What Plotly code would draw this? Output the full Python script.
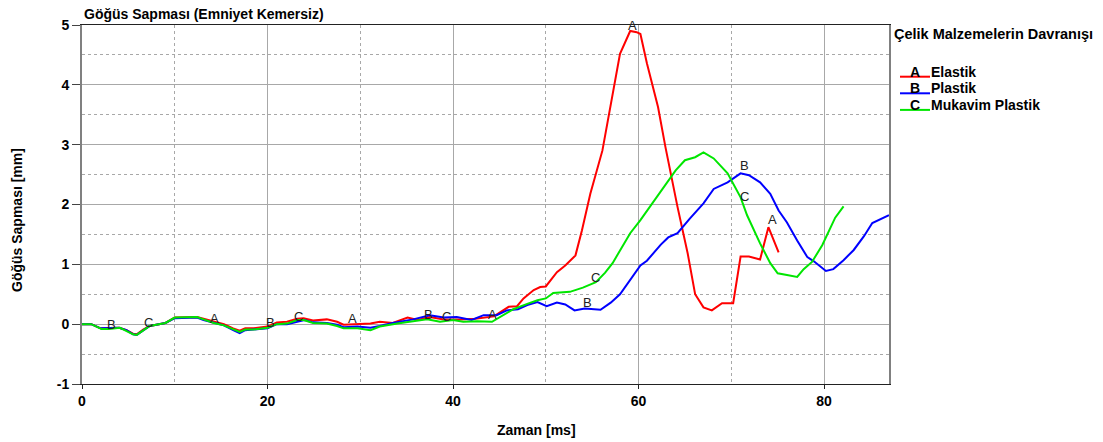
import plotly.graph_objects as go

# ---- data ----
elastik_x = [0, 1, 2, 3, 4, 4.8, 5.5, 5.9, 6.6, 7.3, 8, 9, 10, 11.3, 12.4, 13.1, 14.2, 15.3, 16.3, 17, 17.6, 18.5,
             20, 21, 22.1, 23.2, 23.9, 24.9, 26.4, 27.5, 28.2, 29.7, 31.1, 32.1, 33.5, 35.1, 36.2, 37.5, 39, 40.8,
             42.4, 44.4, 46, 46.9, 47.6, 48.7, 49.4, 50, 50.5, 51.2, 52.1, 53.2, 53.9, 54.8, 56.1, 57.2, 58, 59.1,
             59.8, 60.2, 60.9, 62.1, 62.9, 64.2, 65.3, 66.1, 67, 67.9, 69, 70.2, 71, 71.9, 73.1, 74, 75.1]
elastik_y = [0, 0, -0.07, -0.07, -0.06, -0.1, -0.16, -0.17, -0.09, -0.03, -0.01, 0.02, 0.11, 0.12, 0.12, 0.09, 0.04,
             0.0, -0.07, -0.11, -0.07, -0.07, -0.04, 0.03, 0.04, 0.09, 0.1, 0.06, 0.08, 0.04, -0.01, 0.0, 0.01, 0.04,
             0.02, 0.11, 0.07, 0.12, 0.08, 0.08, 0.09, 0.13, 0.29, 0.3, 0.43, 0.57, 0.62, 0.63, 0.73, 0.87, 0.98,
             1.15, 1.57, 2.18, 2.9, 3.85, 4.52, 4.9, 4.88, 4.85, 4.36, 3.63, 2.96, 1.96, 1.18, 0.5, 0.28, 0.23, 0.35,
             0.35, 1.13, 1.13, 1.08, 1.62, 1.2]

plastik_x = [0, 1, 2, 3, 4, 4.8, 5.5, 5.9, 6.6, 7.3, 8, 9, 10, 11.3, 12.4, 13.1, 14.2, 15.3, 16.3, 17, 17.6, 18.5,
             20, 21, 22.1, 23.2, 24, 24.9, 26.4, 27.5, 28.2, 29.7, 31.1, 32.1, 33.5, 35.7, 37.5, 39, 40.4, 42, 43.3,
             44.7, 45.8, 47, 48, 49.1, 50.1, 51.2, 52.1, 53.1, 54.2, 55.9, 57, 58, 59.1, 60.2, 60.9, 62.4, 63.2,
             64.2, 65.5, 67, 68.1, 69.6, 71, 71.9, 73.1, 74.2, 75.1, 76, 77.1, 78.2, 78.9, 80.2, 81, 82.1, 83.2,
             84.3, 85.2, 86.1, 87]
plastik_y = [0, 0, -0.07, -0.07, -0.06, -0.1, -0.17, -0.18, -0.1, -0.03, -0.01, 0.02, 0.1, 0.11, 0.11, 0.07, 0.02,
             -0.02, -0.1, -0.15, -0.1, -0.09, -0.07, 0.0, 0.0, 0.04, 0.07, 0.03, 0.02, -0.01, -0.05, -0.04, -0.06,
             -0.03, 0.02, 0.08, 0.15, 0.11, 0.12, 0.07, 0.15, 0.15, 0.23, 0.25, 0.32, 0.37, 0.3, 0.36, 0.33, 0.23,
             0.26, 0.24, 0.36, 0.5, 0.73, 0.98, 1.06, 1.33, 1.45, 1.52, 1.76, 2.02, 2.26, 2.37, 2.52, 2.49, 2.37,
             2.18, 1.9, 1.7, 1.4, 1.12, 1.05, 0.89, 0.92, 1.07, 1.24, 1.47, 1.69, 1.75, 1.82]

mukavim_x = [0, 1, 2.1, 2.9, 4.1, 4.8, 5.5, 5.9, 6.6, 7.3, 8, 9, 10, 11.3, 12.4, 13.1, 14.2, 15.3, 16.3, 17, 17.6,
             18.5, 20, 21, 22.1, 23.2, 23.9, 24.9, 26.4, 27.5, 28.2, 29.7, 31.1, 32.1, 34, 35.4, 37.2, 38.6, 40,
             41.1, 42.6, 44.2, 45.1, 46.5, 48, 49.1, 50, 50.8, 52.6, 54, 55.4, 56.4, 57.2, 58, 59.1, 60.2, 61.4,
             62.7, 64, 65, 66.1, 67, 68.1, 69.6, 71, 71.7, 73.1, 74.2, 75, 76, 77.1, 77.8, 78.7, 79.8, 81.2, 82.1]
mukavim_y = [0, 0, -0.08, -0.08, -0.06, -0.11, -0.17, -0.18, -0.1, -0.03, -0.01, 0.02, 0.11, 0.12, 0.12, 0.08,
             0.02, -0.02, -0.09, -0.13, -0.09, -0.09, -0.06, 0.0, 0.01, 0.07, 0.07, 0.02, 0.01, -0.03, -0.07, -0.07,
             -0.1, -0.04, 0.01, 0.04, 0.08, 0.04, 0.07, 0.04, 0.05, 0.04, 0.12, 0.25, 0.34, 0.4, 0.43, 0.52, 0.54,
             0.61, 0.7, 0.86, 1.02, 1.24, 1.52, 1.74, 2.0, 2.27, 2.57, 2.74, 2.79, 2.87, 2.77, 2.52, 2.12, 1.82,
             1.35, 1.02, 0.85, 0.82, 0.79, 0.92, 1.04, 1.32, 1.78, 1.97]

series_names = ["Elastik", "Plastik", "Mukavim Plastik"]
series_letters = ["A", "B", "C"]
series_colors = ["#ff0000", "#0000ff", "#00e600"]

# curve marker letters (x, y)
label_text = ["B", "C", "A", "B", "C", "A", "B", "C", "A", "B", "C", "A", "B", "C", "A"]
label_x = [3.2, 7.2, 14.3, 20.3, 23.3, 29.2, 37.4, 39.3, 44.3, 54.5, 55.4, 59.3, 71.4, 71.4, 74.4]
label_y = [0.0, 0.02, 0.1, 0.02, 0.13, 0.1, 0.17, 0.13, 0.17, 0.37, 0.78, 5.0, 2.65, 2.14, 1.75]

x_ticks = [0, 20, 40, 60, 80]
y_ticks = [-1, 0, 1, 2, 3, 4, 5]

FONT = "Liberation Sans, Arial, sans-serif"
L, R, T, B = 82, 889, 25, 384
PW, PH = R - L, B - T


def px_x(p):
    return (p - L) / PW


def px_y(p):
    return (B - p) / PH


fig = go.Figure()
all_x = [elastik_x, plastik_x, mukavim_x]
all_y = [elastik_y, plastik_y, mukavim_y]
for xs, ys, nm, col in zip(all_x, all_y, series_names, series_colors):
    fig.add_trace(go.Scatter(x=xs, y=ys, mode="lines", name=nm, showlegend=False,
                             line=dict(color=col, width=2)))

for t, lx, ly in zip(label_text, label_x, label_y):
    fig.add_annotation(x=lx, y=ly, xref="x", yref="y", text=t, showarrow=False,
                       font=dict(family=FONT, size=13, color="#222"))

# titles
fig.add_annotation(xref="paper", yref="paper", x=0, y=px_y(14), xanchor="left", yanchor="middle",
                   text="<b>Göğüs Sapması (Emniyet Kemersiz)</b>", showarrow=False,
                   font=dict(family=FONT, size=14, color="#000"))
fig.add_annotation(xref="paper", yref="paper", x=px_x(536), y=px_y(430),
                   xanchor="center", yanchor="middle",
                   text="<b>Zaman [ms]</b>", showarrow=False, font=dict(family=FONT, size=14, color="#000"))
fig.add_annotation(xref="paper", yref="paper", x=px_x(17), y=px_y(220),
                   xanchor="center", yanchor="middle", textangle=-90,
                   text="<b>Göğüs Sapması [mm]</b>", showarrow=False, font=dict(family=FONT, size=14, color="#000"))

# legend (title, swatch lines with letter, label)
fig.add_annotation(xref="paper", yref="paper", x=px_x(892), y=px_y(34),
                   xanchor="left", yanchor="middle",
                   text="<b>Çelik Malzemelerin Davranışı</b>", showarrow=False,
                   font=dict(family=FONT, size=14.5, color="#000"))
for i, (letter, nm, col) in enumerate(zip(series_letters, series_names, series_colors)):
    text_y = 71.5 + 16.6 * i
    line_y = text_y + 5.2
    fig.add_shape(type="line", xref="paper", yref="paper", x0=px_x(900), x1=px_x(930),
                  y0=px_y(line_y), y1=px_y(line_y), line=dict(color=col, width=2))
    fig.add_annotation(xref="paper", yref="paper", x=px_x(915), y=px_y(text_y),
                       xanchor="center", yanchor="middle", text="<b>" + letter + "</b>", showarrow=False,
                       font=dict(family=FONT, size=14, color="#000"))
    fig.add_annotation(xref="paper", yref="paper", x=px_x(929), y=px_y(text_y),
                       xanchor="left", yanchor="middle", text="<b>" + nm + "</b>", showarrow=False,
                       font=dict(family=FONT, size=14, color="#000"))

fig.update_layout(
    width=1103, height=442,
    margin=dict(l=L, r=1103 - R, t=T, b=442 - B),
    paper_bgcolor="white", plot_bgcolor="white",
    font=dict(family=FONT, size=14, color="#000"),
    showlegend=False,
    xaxis=dict(range=[0, 87], tickvals=x_ticks, ticktext=["<b>%d</b>" % v for v in x_ticks],
               showline=True, linecolor="#222", linewidth=1, mirror=True,
               ticks="outside", ticklen=4, tickcolor="#222",
               tickfont=dict(family=FONT, size=14, color="#000"),
               showgrid=True, gridcolor="#a8a8a8", gridwidth=1, zeroline=False,
               minor=dict(dtick=10, tick0=0, showgrid=True, gridcolor="#a8a8a8", griddash="3px,3px", gridwidth=1)),
    yaxis=dict(range=[-1, 5], tickvals=y_ticks, ticktext=["<b>%d</b>" % v for v in y_ticks],
               showline=True, linecolor="#808080", linewidth=2, mirror=True,
               ticks="outside", ticklen=8, tickcolor="#444",
               tickfont=dict(family=FONT, size=14, color="#000"),
               showgrid=True, gridcolor="#a8a8a8", gridwidth=1, zeroline=False,
               minor=dict(dtick=0.5, tick0=0, showgrid=True, gridcolor="#a8a8a8", griddash="3px,3px", gridwidth=1)),
)

fig.write_html("out.html")
